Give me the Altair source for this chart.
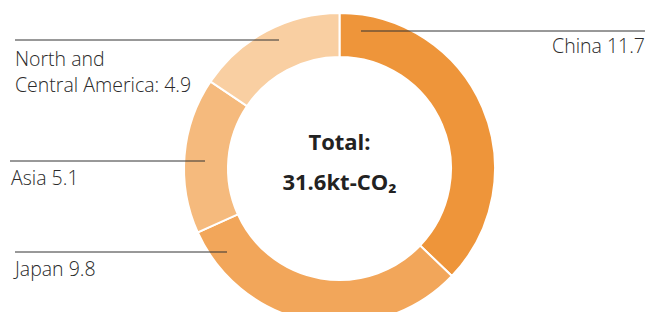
import altair as alt
import pandas as pd

# Data
regions = ["China", "Japan", "Asia", "North and Central America"]
values = [11.7, 9.8, 5.1, 4.9]
colors = ["#EE953A", "#F2A65A", "#F5BA7D", "#F9CFA2"]
label_texts = ["China 11.7", "Japan 9.8", "Asia 5.1", "North and\nCentral America: 4.9"]
center_lines = ["Total:", "31.6kt-CO₂"]

# Layout (chart pixel coords; page = chart + 8)
OFF = 8
W, H = 637, 304
cx, cy = 339.5 - OFF, 168.5 - OFF
leader_x = [361, 15, 10, 15]
leader_x2 = [653, 227, 205, 279]
leader_y = [31, 252, 161, 40]
text_x = [645, 15, 11, 15]
text_y = [47, 270, 179, 60]
text_align = ["right", "left", "left", "left"]

df = pd.DataFrame({"region": regions, "value": values, "order": list(range(len(regions)))})

arc = alt.Chart(df).mark_arc(innerRadius=111.5, outerRadius=155.5, stroke="white", strokeWidth=2).encode(
    theta=alt.Theta("value:Q", stack=True),
    order=alt.Order("order:Q"),
    color=alt.Color("region:N", scale=alt.Scale(domain=regions, range=colors), legend=None),
    x=alt.value(cx),
    y=alt.value(cy),
)

rules_df = pd.DataFrame({
    "x": [v - OFF for v in leader_x],
    "x2": [v - OFF for v in leader_x2],
    "y": [v - OFF for v in leader_y],
})
rules = alt.Chart(rules_df).mark_rule(color="#333333", strokeWidth=1).encode(
    x=alt.X("x:Q", scale=None, axis=None),
    x2="x2:Q",
    y=alt.Y("y:Q", scale=None, axis=None),
)

labels_df = pd.DataFrame({
    "label": [t.split("\n") for t in label_texts],
    "x": [v - OFF for v in text_x],
    "y": [v - OFF for v in text_y],
    "align": text_align,
})
text_layers = []
for align in ["left", "right"]:
    sub = labels_df[labels_df["align"] == align]
    text_layers.append(
        alt.Chart(sub).mark_text(
            font="Open Sans", fontSize=19.5, fontWeight=300, color="#2a2a2a", align=align,
            baseline="middle", lineHeight=26,
        ).encode(
            x=alt.X("x:Q", scale=None, axis=None),
            y=alt.Y("y:Q", scale=None, axis=None),
            text="label",
        )
    )

center_df = pd.DataFrame({"t": center_lines, "y": [143 - OFF, 183 - OFF]})
center = alt.Chart(center_df).mark_text(
    font="Open Sans", fontSize=22, fontWeight="bold", color="#222222",
    align="center", baseline="middle",
).encode(
    x=alt.value(cx),
    y=alt.Y("y:Q", scale=None, axis=None),
    text="t:N",
)

chart = alt.layer(arc, rules, *text_layers, center).properties(
    width=W, height=H, padding=0, autosize=alt.AutoSizeParams(type="none")
).configure_view(stroke=None)

chart.save("out.html", embed_options={"renderer": "svg", "actions": False})
